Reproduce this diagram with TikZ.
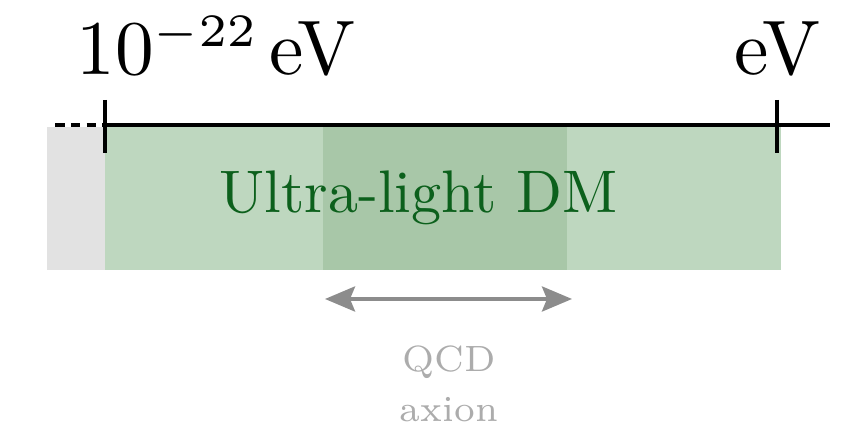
\documentclass[tikz,border=0pt]{standalone}
\usepackage{fontspec}
\usepackage{xcolor}
\usepackage{tikz}
\usetikzlibrary{positioning,arrows.meta}
\DeclareMathSizes{10}{10}{6}{5}
\definecolor{dmgreen}{RGB}{190,215,191}
\definecolor{qcdgreen}{RGB}{168,199,168}
\definecolor{bggray}{RGB}{226,226,226}
\definecolor{textgreen}{RGB}{12,96,28}
\definecolor{arrowgray}{RGB}{140,140,140}
\definecolor{labelgray}{RGB}{172,172,172}
\tikzset{
  axis-line/.style={line width=2.2pt, draw=black},
  tick-mark/.style={line width=2.2pt, draw=black},
  scale-label/.style={font=\normalsize, inner sep=0pt, scale=4.4, transform shape},
  band-label/.style={font=\normalsize, text=textgreen, inner sep=0pt, scale=3.42, transform shape},
  note-label/.style={font=\fontsize{7}{9.6}\selectfont, text=labelgray, align=center, inner sep=0pt, scale=2.97, transform shape},
  range-arrow/.style={{Stealth[length=6mm,width=5mm,inset=1mm]}-{Stealth[length=6mm,width=5mm,inset=1mm]}, line width=2.2pt, draw=arrowgray}
}
\begin{document}
\begin{tikzpicture}
\useasboundingbox (0,0) rectangle (16.92,8.64);

% Mass range bands
\fill[bggray] (0.94,3.24) rectangle (2.1,6.1);
\fill[dmgreen] (2.1,3.24) rectangle (15.62,6.1);
\fill[qcdgreen] (6.46,3.24) rectangle (11.34,6.1);

% Mass axis with end ticks
\coordinate (low) at (2.1,6.14);
\coordinate (high) at (15.54,6.14);
\draw[axis-line, dash pattern=on 5.5pt off 3.5pt] (1.1,6.14) -- (low);
\draw[axis-line] (low) -- (16.6,6.14);
\draw[tick-mark] ([yshift=0.5cm]low) -- ([yshift=-0.56cm]low);
\draw[tick-mark] ([yshift=0.5cm]high) -- ([yshift=-0.56cm]high);

% Scale labels
\node[scale-label, anchor=base west] (low-label) at (1.5,7.14) {$10^{-22}$\kern1.3pt eV};
\node[scale-label, anchor=base east] (high-label) at (16.44,7.14) {eV};

% Band label
\node[band-label, anchor=base] (dm-label) at (8.37,4.38) {Ultra-light DM};

% QCD axion range
\coordinate (qcd-left) at (6.5,2.66);
\coordinate (qcd-right) at (11.44,2.66);
\draw[range-arrow] (qcd-left) -- (qcd-right);
\node[note-label, anchor=north] (qcd-label) at (8.98,1.74) {QCD\\axion};
\end{tikzpicture}
\end{document}
